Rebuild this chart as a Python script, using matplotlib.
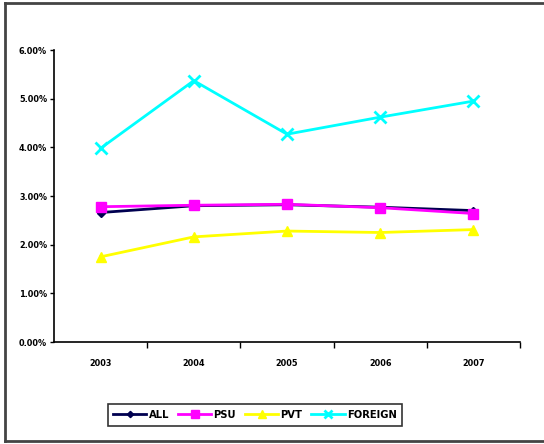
import numpy as np
import matplotlib.pyplot as plt
from matplotlib.lines import Line2D
from matplotlib.ticker import FixedLocator, PercentFormatter

years = ["2003", "2004", "2005", "2006", "2007"]
all_rate = [2.66, 2.80, 2.82, 2.77, 2.70]
psu_rate = [2.78, 2.81, 2.83, 2.76, 2.64]
pvt_rate = [1.75, 2.16, 2.28, 2.25, 2.31]
foreign_rate = [3.98, 5.37, 4.27, 4.62, 4.95]

plt.rcParams["font.family"] = ["DejaVu Sans"]
plt.rcParams["font.stretch"] = "condensed"

fig = plt.figure(figsize=(5.44, 4.44), dpi=100)
ax = fig.add_axes([54 / 544, 1 - 342 / 444, (520 - 54) / 544, (342 - 50) / 444])

x = np.arange(len(years))
ax.plot(x, all_rate, "-D", color="#000050", lw=2, ms=4, label="ALL")
ax.plot(x, psu_rate, "-s", color="#ff00ff", lw=2, ms=7.5, label="PSU")
ax.plot(x, pvt_rate, "-^", color="#ffff00", lw=2, ms=7.5, label="PVT")
ax.plot(x, foreign_rate, "-x", color="#00ffff", lw=2, ms=8, mew=2, label="FOREIGN")

ax.set_xlim(-0.5, 4.5)
ax.set_ylim(0, 6)
ax.set_yticks(np.arange(0, 7, 1))
ax.yaxis.set_major_formatter(PercentFormatter(decimals=2))
ax.set_xticks(x)
ax.set_xticklabels(years)
ax.xaxis.set_minor_locator(FixedLocator(np.arange(0.5, 5, 1)))
ax.tick_params(axis="x", which="major", length=0, pad=12)
ax.tick_params(axis="x", which="minor", length=4, width=1, direction="out")
ax.tick_params(axis="y", length=3, width=1, direction="out", pad=2)
for lbl in ax.get_xticklabels() + ax.get_yticklabels():
    lbl.set_fontsize(6.5)
    lbl.set_fontweight("bold")
    lbl.set_fontstretch("condensed")

for side in ("top", "right"):
    ax.spines[side].set_visible(False)
for side in ("left", "bottom"):
    ax.spines[side].set_linewidth(1.2)

leg = fig.legend(
    loc="center",
    bbox_to_anchor=(255 / 544, 1 - 415 / 444),
    ncol=4,
    frameon=True,
    fancybox=False,
    edgecolor="black",
    prop={"size": 8, "weight": "bold", "stretch": "condensed"},
    handlelength=3,
    columnspacing=0.8,
    handletextpad=0.2,
    borderpad=0.5,
    markerscale=0.8,
)
leg.get_frame().set_linewidth(1.2)

# outer chart border: left, top and bottom edges only
x0, y0, y1 = 5 / 544, 1 - 441 / 444, 1 - 3 / 444
for xs, ys in [([x0, x0], [y0, y1]), ([x0, 1.0], [y1, y1]), ([x0, 1.0], [y0, y0])]:
    fig.add_artist(Line2D(xs, ys, transform=fig.transFigure, color="#444444", lw=2))

fig.savefig("out.png", dpi=100)
